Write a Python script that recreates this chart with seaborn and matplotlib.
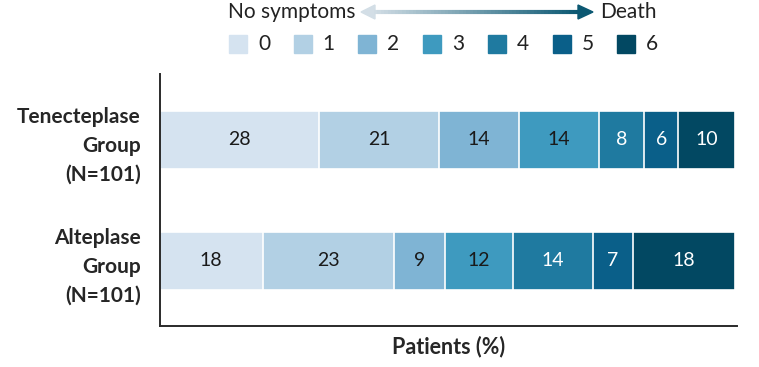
import numpy as np
import pandas as pd
import seaborn as sns
import matplotlib.pyplot as plt
from matplotlib.patches import Rectangle, Polygon
from matplotlib.collections import LineCollection
from matplotlib.colors import LinearSegmentedColormap

# data
groups = ["Tenecteplase\nGroup\n(N=101)", "Alteplase\nGroup\n(N=101)"]
scores = ["0", "1", "2", "3", "4", "5", "6"]
tenecteplase = [28, 21, 14, 14, 8, 6, 10]
alteplase = [18, 23, 9, 12, 14, 7, 18]

colors = ["#d5e3f0", "#b2d0e4", "#7fb4d4", "#3e9abf", "#1f7aa0", "#0a5f89", "#024862"]
text_colors = ["#1a1a1a"] * 4 + ["white"] * 3

sns.set_style("white")
plt.rcParams["font.family"] = ["Lato", "DejaVu Sans"]

rows = []
for g, vals in zip(groups, [tenecteplase, alteplase]):
    cum = np.cumsum(vals)
    for k, s in enumerate(scores):
        rows.append({"group": g, "score": s, "value": vals[k], "cum": cum[k]})
df = pd.DataFrame(rows)

fig = plt.figure(figsize=(7.59, 3.67), dpi=100)
ax = fig.add_axes([160 / 759, 41 / 367, 577 / 759, 252 / 367])

# stacked bars: draw cumulative totals from the last score back to the first
for k in range(len(scores) - 1, -1, -1):
    sub = df[df["score"] == scores[k]]
    sns.barplot(data=sub, x="cum", y="group", order=groups, orient="h",
                color=colors[k], saturation=1, width=0.48,
                edgecolor="white", linewidth=1.2, ax=ax, errorbar=None)

for _, r in df.iterrows():
    k = scores.index(r["score"])
    yi = groups.index(r["group"])
    ax.text(r["cum"] - r["value"] / 2, yi, str(r["value"]), ha="center", va="center",
            fontsize=14, color=text_colors[k])

ax.set_xlim(0, 101.3)
ax.set_ylim(1.54, -0.545)
ax.set_xticks([])
ax.set_ylabel("")
ax.set_yticks(range(len(groups)))
ax.set_yticklabels(groups, fontweight="bold", fontsize=15, linespacing=1.55, ha="right")
ax.tick_params(axis="y", length=0, pad=14)
ax.set_xlabel("Patients (%)", fontweight="bold", fontsize=15.5, labelpad=7)
sns.despine(ax=ax)
for s in ["left", "bottom"]:
    ax.spines[s].set_color("#2a2a2a")
    ax.spines[s].set_linewidth(1.4)

# severity arrow at the top
yy = 1 - 12 / 367
fig.text(355 / 759, yy, "No symptoms", ha="right", va="center", fontsize=15, color="#222222")
fig.text(600 / 759, yy, "Death", ha="left", va="center", fontsize=15, color="#222222")
cmap = LinearSegmentedColormap.from_list("arr", ["#d3dee6", "#0b5872"])
xs = np.linspace(370, 580, 60) / 759
segs = [[(xs[i], yy), (xs[i + 1], yy)] for i in range(len(xs) - 1)]
lc = LineCollection(segs, colors=cmap(np.linspace(0, 1, len(segs))), linewidths=3,
                    transform=fig.transFigure)
fig.add_artist(lc)
h = 7 / 367
fig.add_artist(Polygon([(361 / 759, yy), (375 / 759, yy + h), (375 / 759, yy - h)],
                       closed=True, color="#d3dee6", transform=fig.transFigure))
fig.add_artist(Polygon([(593 / 759, yy), (578 /759, yy + h), (578 /759, yy - h)],
                       closed=True, color="#0b5872", transform=fig.transFigure))

# legend squares
for k, s in enumerate(scores):
    x0 = (229 + k * 64.7) / 759
    fig.add_artist(Rectangle((x0, 1 - 53 / 367), 18 / 759, 18 / 367,
                             color=colors[k], transform=fig.transFigure))
    fig.text(x0 + 29 / 759, 1 - 44 / 367, s, ha="left", va="center", fontsize=15, color="#222222")

fig.savefig("out.png", dpi=100)
